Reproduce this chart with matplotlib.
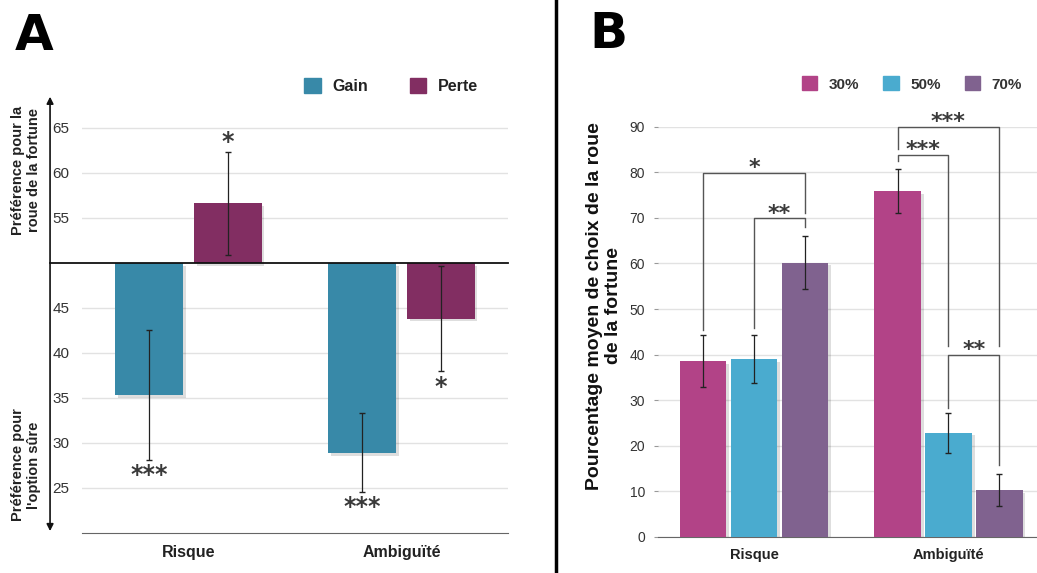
import matplotlib
matplotlib.use('Agg')
from matplotlib import pyplot as plt
from matplotlib.patches import Patch
from matplotlib.lines import Line2D
import matplotlib.patheffects as pe
import numpy as np

plt.rcParams['font.family'] = ['Liberation Sans', 'DejaVu Sans']

# ---- panel A data ----
cats = ['Risque', 'Ambiguïté']
gain = [35.3, 28.9]
gain_err = [7.2, 4.4]
perte = [56.6, 43.8]
perte_err = [5.7, 5.8]
gain_stars = ['***', '***']
gain_star_y = [26.4, 22.9]
perte_stars = ['*', '*']
perte_star_y = [63.4, 36.2]
a_ticks = [25, 30, 35, 40, 45, 55, 60, 65]

# ---- panel B data ----
levels = ['30%', '50%', '70%']
pct_risque = [38.6, 39.0, 60.2]
err_risque = [5.8, 5.3, 5.8]
pct_ambig = [75.9, 22.9, 10.3]
err_ambig = [4.8, 4.4, 3.5]
# (group, bar i, bar j, top, left leg end, right leg end, label)
brackets = [
    (0, 0, 2, 79.9, 45.4, 71.1, '*'),
    (0, 1, 2, 69.9, 45.8, 68.0, '**'),
    (1, 0, 2, 90.0, 85.2, 42.0, '***'),
    (1, 0, 1, 83.9, 82.5, 42.0, '***'),
    (1, 1, 2, 40.0, 28.3, 15.8, '**'),
]
b_ticks = list(range(0, 91, 10))

c_gain = '#3889a8'
c_perte = '#822e62'
c_lv = ['#b24387', '#4aabcf', '#80628f']
star_font = dict(family='DejaVu Sans', color='#3a3a3a', fontweight='bold')
shadow = [pe.withSimplePatchShadow(offset=(2, -2), shadow_rgbFace='k', alpha=0.13), pe.Normal()]

fig = plt.figure(figsize=(10.37, 5.73), dpi=100)

# ================= A =================
ax = fig.add_axes([82/1037, 40/573, 426/1037, 436/573])
x = np.arange(len(cats))
w = 0.316
off = 0.185
ax.bar(x - off, np.array(gain) - 50, w, bottom=50, color=c_gain, zorder=3, path_effects=shadow)
ax.bar(x + off, np.array(perte) - 50, w, bottom=50, color=c_perte, zorder=3, path_effects=shadow)
ax.errorbar(x - off, gain, yerr=gain_err, fmt='none', ecolor='#222', elinewidth=0.9, capsize=2.5, zorder=4)
ax.errorbar(x + off, perte, yerr=perte_err, fmt='none', ecolor='#222', elinewidth=0.9, capsize=2.5, zorder=4)
for i in range(len(cats)):
    ax.text(x[i] - off, gain_star_y[i], gain_stars[i], ha='center', va='center', fontsize=17, **star_font)
    ax.text(x[i] + off, perte_star_y[i], perte_stars[i], ha='center', va='center', fontsize=17, **star_font)
ax.set_xlim(-0.5, 1.5)
ax.set_ylim(20, 68.4)
ax.set_yticks(a_ticks)
ax.set_yticklabels([str(t) for t in a_ticks], fontsize=11, color='#333')
ax.set_xticks(x)
ax.set_xticklabels(cats, fontsize=11.5, fontweight='bold', color='#222')
ax.tick_params(axis='both', length=0)
ax.tick_params(axis='y', pad=9)
ax.tick_params(axis='x', pad=9)
ax.grid(axis='y', color='#e2e2e2', lw=1, zorder=0)
for s in ['top', 'right', 'left']:
    ax.spines[s].set_visible(False)
ax.spines['bottom'].set_color('#666')
ax.axhline(50, xmin=-0.075, xmax=1, color='#111', lw=1.3, clip_on=False, zorder=5)
ax.annotate('', xy=(-0.075, 1.007), xytext=(-0.075, -0.002), xycoords='axes fraction',
            arrowprops=dict(arrowstyle='<|-|>', color='#111', lw=1.2, mutation_scale=10))
fig.text(26/1037, 1 - 170/573, 'Préférence pour la\nroue de la fortune', rotation=90,
         ha='center', va='center', fontsize=10.5, fontweight='bold', color='#222', linespacing=1.1)
fig.text(26/1037, 1 - 465/573, 'Préférence pour\nl\'option sûre', rotation=90,
         ha='center', va='center', fontsize=10.5, fontweight='bold', color='#222', linespacing=1.1)
fig.legend(handles=[Patch(color=c_gain, label='Gain'), Patch(color=c_perte, label='Perte')],
           loc='center', bbox_to_anchor=(391/1037, 1 - 86/573), ncol=2, frameon=False,
           handlelength=1.05, handleheight=1.05, handletextpad=0.7, columnspacing=2.6,
           prop=dict(size=11.5, weight='bold'), labelcolor='#222')

# ================= B =================
bx = fig.add_axes([657.7/1037, 36/573, 379.3/1037, 410.3/573])
g = np.arange(2)
bw = 0.239
step = 0.262
vals = np.array([pct_risque, pct_ambig])
errs = np.array([err_risque, err_ambig])
for k in range(3):
    xp = g + (k - 1) * step
    bx.bar(xp, vals[:, k], bw, color=c_lv[k], zorder=3, path_effects=shadow)
    bx.errorbar(xp, vals[:, k], yerr=errs[:, k], fmt='none', ecolor='#222', elinewidth=0.9, capsize=2.5, zorder=4)
for grp, i, j, top, e1, e2, lab in brackets:
    x1 = grp + (i - 1) * step
    x2 = grp + (j - 1) * step
    bx.plot([x1, x1, x2, x2], [e1, top, top, e2], color='#555', lw=1, clip_on=False, zorder=5)
    bx.text((x1 + x2) / 2, top - 1.2, lab, ha='center', va='bottom', fontsize=16, **star_font)
bx.set_xlim(-0.495, 1.455)
bx.set_ylim(0, 90)
bx.set_yticks(b_ticks)
bx.set_yticklabels([str(t) for t in b_ticks], fontsize=10, color='#333')
bx.set_xticks(g)
bx.set_xticklabels(cats, fontsize=10.5, fontweight='bold', color='#222')
bx.tick_params(axis='y', length=3, color='#999', pad=6)
bx.tick_params(axis='x', length=0, pad=8)
bx.grid(axis='y', color='#e2e2e2', lw=1, zorder=0)
for s in ['top', 'right', 'left']:
    bx.spines[s].set_visible(False)
bx.spines['bottom'].set_color('#666')
fig.text(604/1037, 1 - 306/573, 'Pourcentage moyen de choix de la roue\nde la fortune', rotation=90,
         ha='center', va='center', fontsize=14, fontweight='bold', color='#111', linespacing=1.2)
fig.legend(handles=[Patch(color=c_lv[k], label=levels[k]) for k in range(3)],
           loc='center', bbox_to_anchor=(912/1037, 1 - 84/573), ncol=3, frameon=False,
           handlelength=1.0, handleheight=1.0, handletextpad=0.75, columnspacing=1.6,
           prop=dict(size=11, weight='bold'), labelcolor='#333')

# panel letters and divider
fig.text(15/1037, 1 - 50/573, 'A', fontsize=36, fontweight='heavy', family='DejaVu Sans', va='baseline')
fig.text(589/1037, 1 - 48/573, 'B', fontsize=36, fontweight='heavy', family='DejaVu Sans', va='baseline')
fig.add_artist(Line2D([556/1037, 556/1037], [0, 1], color='black', lw=2.5))

plt.savefig('out.png', dpi=100)
